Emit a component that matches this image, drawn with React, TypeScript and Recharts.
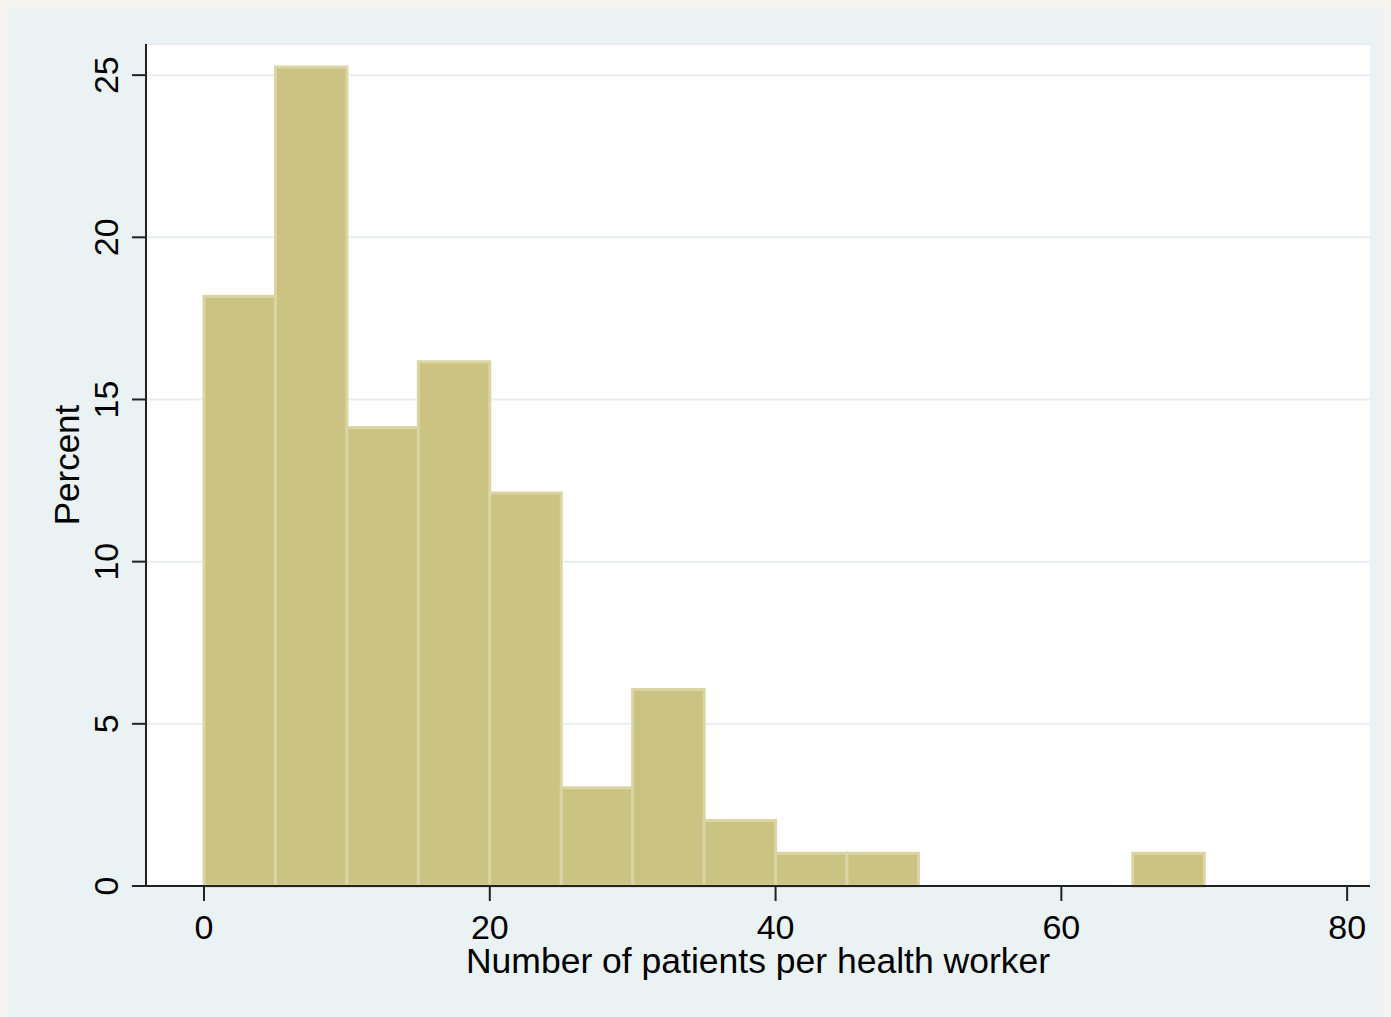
import React, { useEffect } from 'react';
import { ComposedChart, Line, XAxis, YAxis, CartesianGrid, ReferenceArea } from 'recharts';

// histogram bins (width 5) and their share of health workers, in percent
const binStarts = [0, 5, 10, 15, 20, 25, 30, 35, 40, 45, 50, 55, 60, 65];
const binWidth = 5;
const percents = [18.18, 25.25, 14.14, 16.16, 12.12, 3.03, 6.06, 2.02, 1.01, 1.01, 0, 0, 0, 1.01];

const xTicks = [0, 20, 40, 60, 80];
const yTicks = [0, 5, 10, 15, 20, 25];

const data = binStarts.map((lo, i) => ({ mid: lo + binWidth / 2, lo, hi: lo + binWidth, pct: percents[i] }));

const FONT = '"Liberation Sans", Arial, sans-serif';

const XTick = ({ x, y, payload }: any) => (
  <text x={x} y={y + 36} textAnchor="middle" fontSize={34} fontFamily={FONT} fill="#000">
    {payload.value}
  </text>
);

const YTick = ({ x, y, payload }: any) => (
  <text x={x} y={y} transform={`rotate(-90, ${x}, ${y})`} textAnchor="middle" fontSize={34} fontFamily={FONT} fill="#000">
    {payload.value}
  </text>
);

const App: React.FC = () => {
  useEffect(() => {
    document.body.style.background = '#f6f2ee';
  }, []);

  return (
    <div style={{ width: 1383, height: 1009, background: '#eaf2f3' }}>
      <ComposedChart width={1383} height={1009} data={data} margin={{ top: 36, right: 21, left: 0, bottom: 0 }}>
        <CartesianGrid vertical={false} stroke="#e6eef1" strokeWidth={2} fill="#ffffff" />
        <XAxis
          type="number"
          dataKey="mid"
          domain={[-4.06, 81.6]}
          ticks={xTicks}
          allowDataOverflow
          height={131}
          tickSize={15}
          tickMargin={2}
          tick={<XTick />}
          stroke="#222"
          strokeWidth={2}
          label={{
            content: ({ viewBox }: any) => (
              <text x={viewBox.x + viewBox.width / 2} y={viewBox.y + 87} textAnchor="middle" fontSize={35.5} fontFamily={FONT} fill="#000">
                Number of patients per health worker
              </text>
            ),
          }}
        />
        <YAxis
          type="number"
          domain={[0, 25.96]}
          ticks={yTicks}
          allowDataOverflow
          width={138}
          tickSize={14}
          tickMargin={14}
          tick={<YTick />}
          stroke="#222"
          strokeWidth={2}
          label={{
            content: ({ viewBox }: any) => {
              const cx = viewBox.x + 71;
              const cy = viewBox.y + viewBox.height / 2;
              return (
                <text x={cx} y={cy} transform={`rotate(-90, ${cx}, ${cy})`} textAnchor="middle" fontSize={35} fontFamily={FONT} fill="#000">
                  Percent
                </text>
              );
            },
          }}
        />
        {data
          .filter(d => d.pct > 0)
          .map(d => (
            <ReferenceArea
              key={d.lo}
              x1={d.lo}
              x2={d.hi}
              y1={0}
              y2={d.pct}
              fill="#cac382"
              fillOpacity={1}
              stroke="#dad5a2"
              strokeWidth={3}
              ifOverflow="visible"
            />
          ))}
        <Line dataKey="pct" stroke="none" dot={false} activeDot={false} isAnimationActive={false} />
      </ComposedChart>
    </div>
  );
};

export default App;
